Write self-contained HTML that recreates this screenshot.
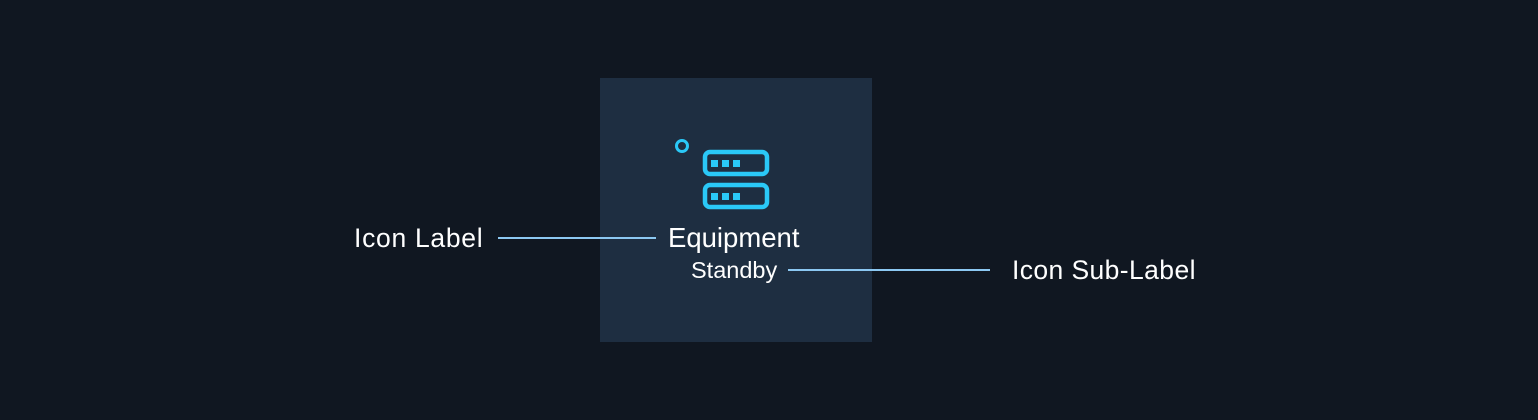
<!DOCTYPE html>
<html><head><style>
body{margin:0;width:1538px;height:420px;background:#101721;position:relative;overflow:hidden;font-family:"Liberation Sans",sans-serif;color:#fff}
.p{position:absolute;left:600px;top:78px;width:272px;height:264px;background:#1e2e41}
.t{position:absolute;white-space:nowrap}
.l{position:absolute;height:2px;background:#8cc8f2}
</style></head><body>
<div class="p"></div>
<svg style="position:absolute;left:0;top:0" width="1538" height="420">
<circle cx="682" cy="146" r="5.5" fill="none" stroke="#2ac8f7" stroke-width="3"/>
<rect x="705" y="152" width="62" height="22" rx="5" fill="none" stroke="#2ac8f7" stroke-width="4.5"/>
<rect x="705" y="185" width="62" height="22" rx="5" fill="none" stroke="#2ac8f7" stroke-width="4.5"/>
<g fill="#2ac8f7">
<rect x="711" y="160" width="7" height="7"/><rect x="722" y="160" width="7" height="7"/><rect x="733" y="160" width="7" height="7"/>
<rect x="711" y="193" width="7" height="7"/><rect x="722" y="193" width="7" height="7"/><rect x="733" y="193" width="7" height="7"/>
</g>
</svg>
<div class="t" style="left:668px;top:222px;font-size:27.5px">Equipment</div>
<div class="t" style="left:691px;top:257px;font-size:23.5px">Standby</div>
<div class="t" style="left:354px;top:223px;font-size:26.5px;letter-spacing:0.7px">Icon Label</div>
<div class="t" style="left:1012px;top:255px;font-size:26.5px;letter-spacing:0.4px">Icon Sub-Label</div>
<div class="l" style="left:498px;top:237px;width:158px"></div>
<div class="l" style="left:788px;top:269px;width:202px"></div>
</body></html>
